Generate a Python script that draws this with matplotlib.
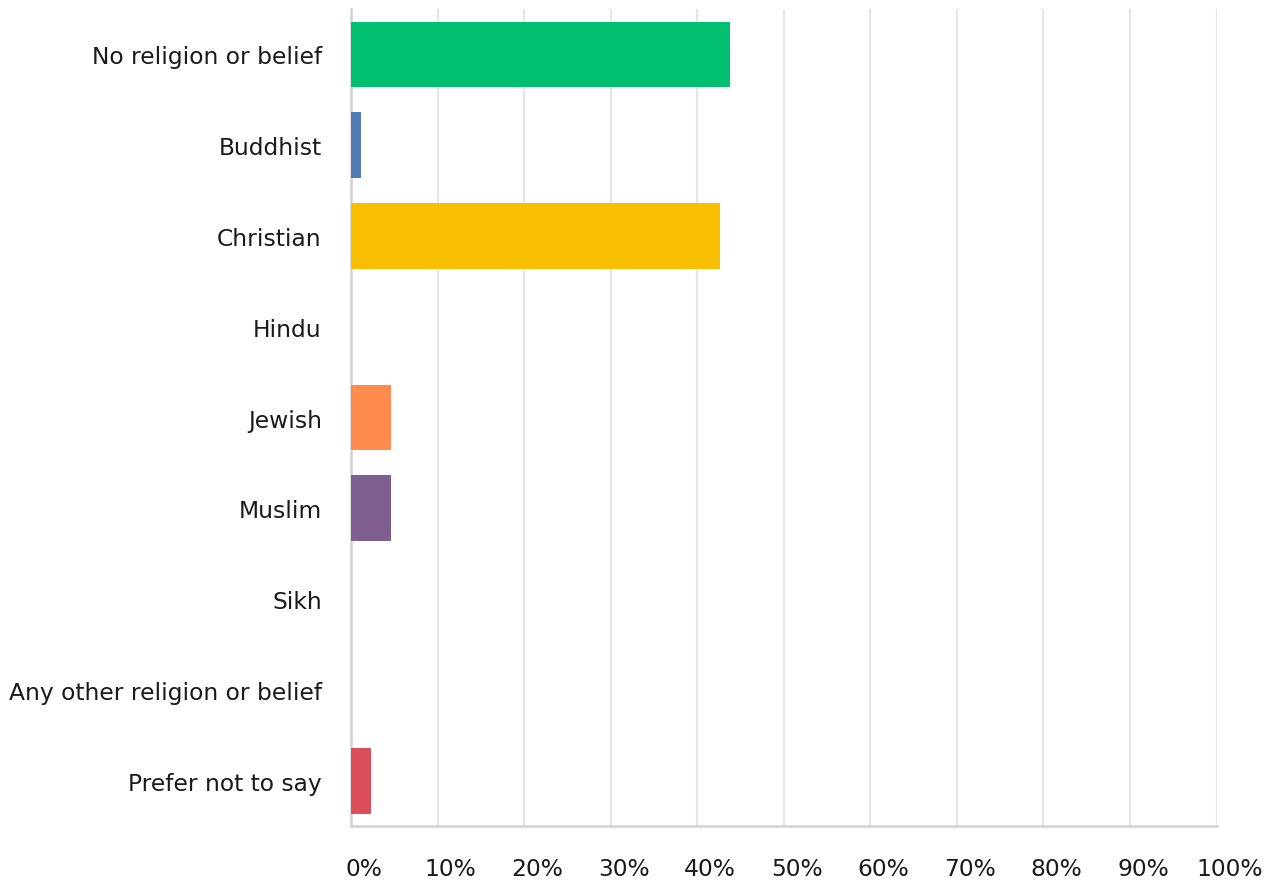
import matplotlib.pyplot as plt
import matplotlib.transforms as mtransforms

# survey answers (percent of respondents)
categories = ["No religion or belief", "Buddhist", "Christian", "Hindu", "Jewish",
              "Muslim", "Sikh", "Any other religion or belief", "Prefer not to say"]
values = [43.8, 1.2, 42.6, 0.0, 4.6, 4.6, 0.0, 0.0, 2.3]
colors = ["#00BF6F", "#507CB6", "#F9BE00", "#6BC8CD", "#FF8B4F",
          "#7F5F90", "#0C9ACA", "#AC7ECD", "#DC4D5C"]
xticks = [0, 10, 20, 30, 40, 50, 60, 70, 80, 90, 100]
xtick_labels = [f"{t}%" for t in xticks]

plt.rcParams["font.family"] = ["DejaVu Sans"]

fig = plt.figure(figsize=(12.73, 8.87), dpi=100)
ax = fig.add_axes([0.2757, 0.0676, 0.6800, 0.9211])

y = list(range(len(categories)))
ax.barh(y, values, height=0.725, color=colors, zorder=3)

ax.set_ylim(len(categories) - 0.5, -0.5)
ax.set_xlim(0, 100)
ax.set_yticks(y)
ax.set_yticklabels(categories, fontsize=16.8, color="#1a1a1a")
ax.set_xticks(xticks)
ax.set_xticklabels([])

# x labels sit a bit right of their gridlines
offset = mtransforms.ScaledTranslation(13 / 100, -42 / 100, fig.dpi_scale_trans)
trans = ax.get_xaxis_transform() + offset
for t, lab in zip(xticks, xtick_labels):
    ax.text(t, 0, lab, transform=trans, ha="center", va="center",
            fontsize=16.8, color="#1a1a1a")

ax.tick_params(axis="y", length=0, pad=21)
ax.tick_params(axis="x", length=0)

ax.grid(axis="x", color="#e6e6e6", linewidth=1.6, zorder=0)
for s in ["top", "right"]:
    ax.spines[s].set_visible(False)
for s in ["left", "bottom"]:
    ax.spines[s].set_color("#d2d2d2")
    ax.spines[s].set_linewidth(1.8)

fig.savefig("out.png", dpi=100, facecolor="white")
